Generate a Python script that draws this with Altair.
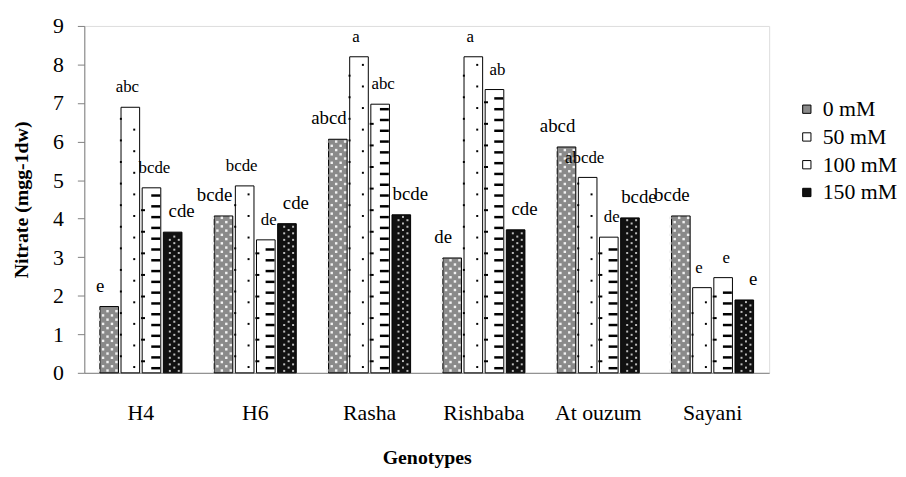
import altair as alt
import pandas as pd

genotypes = ["H4", "H6", "Rasha", "Rishbaba", "At ouzum", "Sayani"]
series = ["0 mM", "50 mM", "100 mM", "150 mM"]

v0 = [1.72, 4.07, 6.06, 2.98, 5.86, 4.07]
v50 = [6.89, 4.85, 8.20, 8.20, 5.07, 2.21]
v100 = [4.80, 3.45, 6.97, 7.35, 3.52, 2.47]
v150 = [3.65, 3.87, 4.10, 3.71, 4.02, 1.89]

l0 = ["e", "bcde", "abcd", "de", "abcd", "bcde"]
l50 = ["abc", "bcde", "a", "a", "abcde", "e"]
l100 = ["bcde", "de", "abc", "ab", "de", "e"]
l150 = ["cde", "cde", "bcde", "cde", "bcde", "e"]

values = [v0, v50, v100, v150]
letters = [l0, l50, l100, l150]

rows = []
for si, s in enumerate(series):
    for gi, g in enumerate(genotypes):
        rows.append({"genotype": g, "series": s, "value": values[si][gi],
                     "letter": letters[si][gi], "big": si in (0, 3)})
df = pd.DataFrame(rows)

# --- fill textures (decorative, derived from the bar values) ---
subs = [f"{si}_{k}" for si in range(4) for k in range(5)]


def texture(si, step, start, pattern):
    out = []
    for gi, g in enumerate(genotypes):
        v = values[si][gi]
        r = 0
        y = start
        while y < v - step * 0.4:
            for k in pattern[r % len(pattern)]:
                out.append({"genotype": g, "sub": f"{si}_{k}", "y": y})
            r += 1
            y += step
    return pd.DataFrame(out)


tex_hatch = texture(0, 0.11, 0.06, [[0, 2, 4], [1, 3]])
tex_dark = texture(3, 0.085, 0.05, [[1, 3], [2]])
tex_dots = texture(1, 0.28, 0.15, [[3], [0]])
tex_dash_r = texture(2, 0.28, 0.12, [[3]])
tex_dash_l = texture(2, 0.56, 0.30, [[0]])

FONT = "Liberation Serif"

xscale = alt.Scale(paddingInner=0.26, paddingOuter=0.125)
yscale = alt.Scale(domain=[0, 9], nice=False)
ser_scale = alt.Scale(domain=series, paddingInner=0.12, paddingOuter=0.06)
sub_off = alt.XOffset("sub:N", sort=subs,
                      scale=alt.Scale(domain=subs, paddingInner=0, paddingOuter=0))

x_axis = alt.Axis(title="Genotypes", labelAngle=0, ticks=False, labelPadding=30,
                  titlePadding=24)
y_axis = alt.Axis(title="Nitrate (mgg-1dw)", values=list(range(10)), grid=False,
                  tickSize=7, labelPadding=14, titlePadding=21, labelOverlap=False)

bars = alt.Chart(df).mark_bar(stroke="black", strokeWidth=1).encode(
    x=alt.X("genotype:N", sort=genotypes, scale=xscale, axis=x_axis),
    xOffset=alt.XOffset("series:N", sort=series, scale=ser_scale),
    y=alt.Y("value:Q", scale=yscale, axis=y_axis),
    color=alt.Color("series:N", sort=series,
                    scale=alt.Scale(domain=series,
                                    range=["#8a8a8a", "#ffffff", "#ffffff", "#111111"]),
                    legend=alt.Legend(title=None, orient="none", legendX=718, legendY=73,
                                      symbolType="square", symbolSize=70,
                                      symbolStrokeColor="black", symbolStrokeWidth=1,
                                      labelFont=FONT, labelFontSize=22,
                                      labelColor="black", rowPadding=6,
                                      labelOffset=5, padding=0)),
)


def dots(d, color, size):
    return alt.Chart(d).mark_square(color=color, size=size, opacity=1).encode(
        x=alt.X("genotype:N", sort=genotypes, scale=xscale, axis=x_axis),
        xOffset=sub_off,
        y=alt.Y("y:Q", scale=yscale, axis=y_axis),
    )


def dashes(d, length, thick):
    return alt.Chart(d).mark_tick(color="black", thickness=thick, size=length,
                                  opacity=1).encode(
        x=alt.X("genotype:N", sort=genotypes, scale=xscale, axis=x_axis),
        xOffset=sub_off,
        y=alt.Y("y:Q", scale=yscale, axis=y_axis),
    )


def labels(big, size):
    return alt.Chart(df).transform_filter(
        alt.datum.big if big else ~alt.datum.big
    ).mark_text(font=FONT, fontSize=size, color="black", baseline="alphabetic",
                dy=-15).encode(
        x=alt.X("genotype:N", sort=genotypes, scale=xscale, axis=x_axis),
        xOffset=alt.XOffset("series:N", sort=series, scale=ser_scale),
        y=alt.Y("value:Q", scale=yscale, axis=y_axis),
        text="letter:N",
    )


chart = alt.layer(
    bars,
    dots(tex_hatch, "#f2f2f2", 6),
    dots(tex_dark, "#bdbdbd", 4),
    dots(tex_dots, "black", 4),
    dashes(tex_dash_r, 9, 2.5),
    dashes(tex_dash_l, 4, 2),
    labels(True, 19),
    labels(False, 17),
).resolve_scale(xOffset="independent").properties(
    width=691, height=350,
    autosize=alt.AutoSizeParams(type="none"),
    padding={"left": 77, "top": 16, "right": 130, "bottom": 103},
).configure_view(stroke="#5a5a5a", strokeWidth=1.2).configure(
    background="white"
).configure_axis(
    labelFont=FONT, labelFontSize=22, labelColor="black",
    titleFont=FONT, titleFontSize=20, titleFontWeight="bold", titleColor="black",
    domainColor="#808080", tickColor="#808080", grid=False,
)

chart.save("out.html", embed_options={"renderer": "svg", "actions": False})
